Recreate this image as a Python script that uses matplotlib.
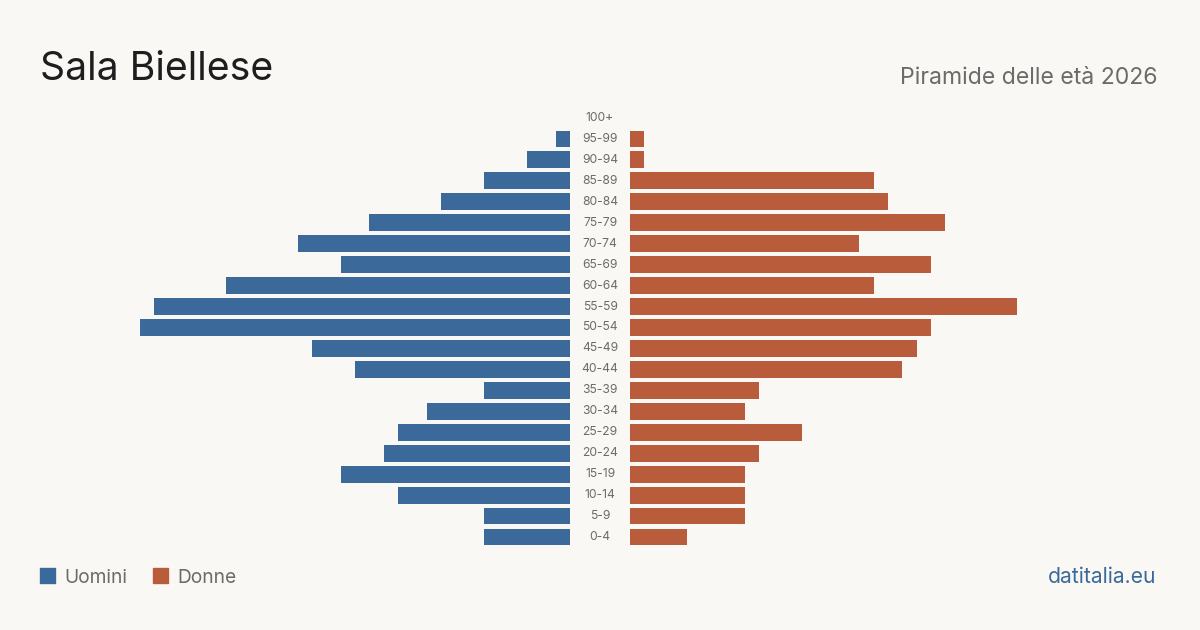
import matplotlib
matplotlib.use("Agg")
import matplotlib.pyplot as plt
from matplotlib.patches import Rectangle

# Age classes from youngest to oldest
ages = ["0-4", "5-9", "10-14", "15-19", "20-24", "25-29", "30-34", "35-39",
        "40-44", "45-49", "50-54", "55-59", "60-64", "65-69", "70-74",
        "75-79", "80-84", "85-89", "90-94", "95-99", "100+"]
men = [6, 6, 12, 16, 13, 12, 10, 6, 15, 18, 30, 29, 24, 16, 19, 14, 9, 6, 3, 1, 0]
women = [4, 8, 8, 8, 9, 12, 8, 9, 19, 20, 21, 27, 17, 21, 16, 22, 18, 17, 1, 1, 0]

BG = "#f9f8f4"
BLUE = "#3b6a9a"
ORANGE = "#b95c3b"
GRAY = "#6b6b6b"

plt.rcParams["font.family"] = ["Inter", "DejaVu Sans"]

W, H = 1200, 630
fig = plt.figure(figsize=(12, 6.3), dpi=100, facecolor=BG)

xmax = 30
bottom = 1 - 547.5 / H
height = 440 / H
ax_l = fig.add_axes([140 / W, bottom, 430 / W, height])
ax_r = fig.add_axes([630 / W, bottom, 430 / W, height])

ypos = list(range(len(ages)))
ax_l.barh(ypos, men, height=0.8, color=BLUE)
ax_r.barh(ypos, women, height=0.8, color=ORANGE)
ax_l.set_xlim(xmax, 0)
ax_r.set_xlim(0, xmax)
for ax in (ax_l, ax_r):
    ax.set_ylim(-0.5, len(ages) - 0.5)
    ax.axis("off")
    ax.set_facecolor("none")

# age labels in the gap between the two halves
for y, lab in zip(ypos, ages):
    fy = bottom + height * (y + 0.5) / len(ages)
    fig.text(600 / W, fy, lab, ha="center", va="center", fontsize=8.7, color=GRAY)

fig.text(40 / W, 1 - 80 / H, "Sala Biellese", fontsize=28.2, color="#1e1e1e",
         ha="left", va="baseline")
fig.text(1158 / W, 1 - 84 / H, "Piramide delle età 2026", fontsize=16.6,
         color=GRAY, ha="right", va="baseline")

# legend
fig.patches.append(Rectangle((40 / W, 1 - 583 / H), 15 / W, 15 / H,
                             transform=fig.transFigure, color=BLUE))
fig.text(64 / W, 1 - 583 / H, "Uomini", fontsize=13.8, color=GRAY,
         ha="left", va="baseline")
fig.patches.append(Rectangle((153 / W, 1 - 583 / H), 15 / W, 15 / H,
                             transform=fig.transFigure, color=ORANGE))
fig.text(177 / W, 1 - 583 / H, "Donne", fontsize=13.8, color=GRAY,
         ha="left", va="baseline")

fig.text(1156 / W, 1 - 583 / H, "datitalia.eu", fontsize=15.2, color=BLUE,
         ha="right", va="baseline")

fig.savefig("out.png", dpi=100, facecolor=BG)
